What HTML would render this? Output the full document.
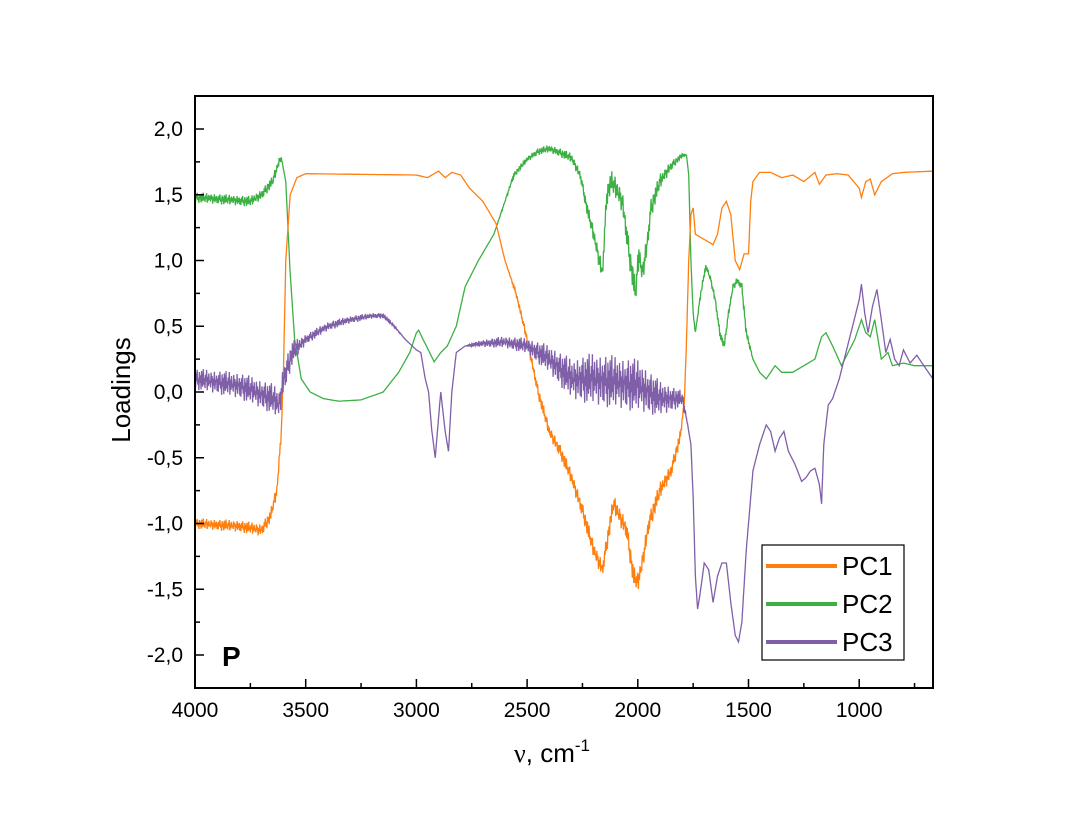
<!DOCTYPE html>
<html><head><meta charset="utf-8"><style>
body{margin:0;background:#fff;}
svg text{font-family:"Liberation Sans",Arial,sans-serif;}
</style></head><body>
<svg id="chart" width="1081" height="825" xmlns="http://www.w3.org/2000/svg">
<rect width="1081" height="825" fill="#fff"/>
<g id="plot"></g>
<g id="axes"></g>
<text transform="translate(130,390) rotate(-90)" text-anchor="middle" font-size="26">Loadings</text>
<text x="552" y="762" text-anchor="middle" font-size="26"><tspan font-family="Liberation Serif,serif">ν</tspan>, cm<tspan dy="-11" font-size="17">-1</tspan></text>
<text x="222" y="666" font-size="28" font-weight="bold">P</text>
<g>
<rect x="762" y="545" width="142" height="115" fill="#fff" stroke="#000" stroke-width="1.2"/>
<line x1="766" y1="566" x2="837" y2="566" stroke="#ff7f0e" stroke-width="4"/>
<text x="842" y="575" font-size="26">PC1</text>
<line x1="766" y1="604" x2="837" y2="604" stroke="#3cb043" stroke-width="4"/>
<text x="842" y="613" font-size="26">PC2</text>
<line x1="766" y1="642" x2="837" y2="642" stroke="#7f5fa8" stroke-width="4"/>
<text x="842" y="651" font-size="26">PC3</text>
</g>
</svg>
<script>
const xTicks=[4000,3500,3000,2500,2000,1500,1000];
const yTicks=[-2,-1.5,-1,-0.5,0,0.5,1,1.5,2];
const yTickLabels=["-2,0","-1,5","-1,0","-0,5","0,0","0,5","1,0","1,5","2,0"];
const pc1=[[4000,-1],[3800,-1.02],[3700,-1.05],[3660,-0.95],[3630,-0.75],[3610,-0.3],[3600,0.2],[3590,1.0],[3570,1.5],[3540,1.63],[3500,1.66],[3000,1.65],[2950,1.63],[2900,1.68],[2870,1.63],[2840,1.67],[2800,1.65],[2760,1.55],[2700,1.45],[2640,1.28],[2600,1.0],[2550,0.75],[2500,0.4],[2450,0.0],[2400,-0.3],[2350,-0.45],[2300,-0.65],[2250,-0.9],[2200,-1.2],[2160,-1.35],[2140,-1.15],[2110,-0.85],[2080,-0.95],[2050,-1.05],[2020,-1.4],[2000,-1.45],[1980,-1.3],[1950,-1.0],[1900,-0.75],[1850,-0.6],[1810,-0.35],[1790,-0.1],[1780,0.4],[1770,1.0],[1760,1.35],[1750,1.4],[1740,1.2],[1710,1.17],[1690,1.15],[1660,1.12],[1640,1.2],[1620,1.4],[1600,1.45],[1580,1.35],[1560,1.0],[1540,0.93],[1520,1.05],[1500,1.05],[1490,1.45],[1480,1.6],[1450,1.67],[1400,1.67],[1350,1.63],[1300,1.65],[1250,1.6],[1200,1.67],[1180,1.58],[1150,1.65],[1100,1.66],[1050,1.65],[1000,1.55],[990,1.48],[970,1.6],[950,1.62],[930,1.5],[900,1.6],[850,1.66],[800,1.67],[667,1.68]];
const pc2=[[4000,1.48],[3750,1.45],[3700,1.5],[3650,1.6],[3620,1.75],[3610,1.78],[3590,1.6],[3570,0.9],[3550,0.4],[3520,0.1],[3480,0.0],[3420,-0.05],[3350,-0.07],[3250,-0.06],[3150,0.0],[3080,0.15],[3030,0.3],[3000,0.45],[2990,0.47],[2970,0.4],[2940,0.3],[2920,0.23],[2890,0.3],[2860,0.35],[2820,0.5],[2780,0.8],[2720,1.0],[2650,1.2],[2600,1.45],[2560,1.65],[2500,1.77],[2450,1.83],[2400,1.85],[2350,1.82],[2300,1.78],[2260,1.65],[2230,1.4],[2200,1.2],[2180,1.05],[2160,0.9],[2140,1.5],[2120,1.6],[2100,1.55],[2070,1.45],[2050,1.2],[2030,0.95],[2010,0.75],[1995,1.05],[1980,0.9],[1960,1.1],[1940,1.4],[1900,1.6],[1850,1.72],[1800,1.8],[1780,1.8],[1770,1.65],[1760,1.0],[1750,0.6],[1740,0.45],[1720,0.7],[1700,0.9],[1690,0.95],[1670,0.85],[1650,0.7],[1630,0.45],[1610,0.35],[1590,0.6],[1570,0.8],[1550,0.85],[1530,0.8],[1510,0.45],[1480,0.25],[1450,0.15],[1420,0.1],[1380,0.2],[1350,0.15],[1300,0.15],[1250,0.2],[1200,0.25],[1170,0.42],[1150,0.45],[1120,0.35],[1080,0.2],[1050,0.3],[1020,0.4],[990,0.55],[970,0.45],[950,0.42],[930,0.55],[900,0.25],[870,0.3],[850,0.2],[800,0.22],[750,0.2],[667,0.2]];
const pc3=[[4000,0.1],[3800,0.05],[3650,-0.05],[3620,-0.1],[3600,0.1],[3560,0.3],[3500,0.4],[3400,0.5],[3300,0.55],[3200,0.58],[3150,0.58],[3100,0.5],[3050,0.4],[3000,0.32],[2980,0.3],[2960,0.1],[2945,0.0],[2930,-0.3],[2915,-0.5],[2900,-0.2],[2890,0.0],[2870,-0.3],[2855,-0.45],[2840,0.0],[2820,0.3],[2780,0.35],[2700,0.37],[2600,0.38],[2500,0.35],[2400,0.25],[2300,0.1],[2200,0.1],[2000,0.05],[1900,-0.05],[1800,-0.05],[1780,-0.2],[1760,-0.4],[1750,-0.8],[1740,-1.4],[1730,-1.65],[1720,-1.55],[1700,-1.3],[1680,-1.35],[1660,-1.6],[1640,-1.4],[1620,-1.3],[1600,-1.3],[1580,-1.6],[1560,-1.85],[1545,-1.9],[1530,-1.75],[1510,-1.2],[1480,-0.6],[1450,-0.4],[1420,-0.25],[1400,-0.3],[1380,-0.45],[1360,-0.35],[1340,-0.3],[1320,-0.45],[1290,-0.55],[1260,-0.68],[1240,-0.65],[1220,-0.6],[1200,-0.58],[1180,-0.7],[1170,-0.85],[1160,-0.4],[1140,-0.1],[1120,-0.05],[1090,0.1],[1060,0.3],[1030,0.5],[1000,0.7],[990,0.82],[975,0.6],[960,0.45],[940,0.65],[920,0.78],[900,0.55],[880,0.3],[860,0.4],[840,0.25],[820,0.2],[800,0.32],[770,0.22],[740,0.28],[700,0.18],[667,0.1]];
// noise amplitude envelopes (wavenumber, amplitude)
const pc1Noise=[[4000,0.04],[3620,0.05],[3580,0],[2600,0],[2500,0.04],[2250,0.06],[2000,0.08],[1800,0.05],[1775,0],[667,0]];
const pc2Noise=[[4000,0.04],[3620,0.04],[3600,0],[2650,0],[2560,0.02],[2250,0.04],[2150,0.08],[2000,0.1],[1850,0.04],[1770,0],[1700,0.03],[1500,0.03],[1480,0],[667,0]];
const pc3Noise=[[4000,0.08],[3600,0.12],[3500,0.04],[3150,0.02],[3050,0],[2780,0],[2700,0.03],[2500,0.06],[2200,0.2],[2000,0.2],[1850,0.1],[1790,0.05],[1770,0],[667,0]];
const jitter=[0.3,-0.8,0.6,-0.2,0.9,-0.5,0.1,-1,0.7,-0.3,0.4,-0.9,0.8,0,-0.6,1,-0.4,0.2,-0.7,0.5,-0.1,0.95,-0.85,0.35,-0.45,0.65,-0.25,0.05,-0.55,0.75,-0.15,0.45,-0.95,0.25,-0.35,0.85,-0.65,0.15,-0.05,0.55,-0.75];

const X0=195,XS=110.7/500,Y0=392,YS=131.5;
const xs=v=>X0+(4000-v)*XS, ys=v=>Y0-v*YS;
const L=195,R=933,T=96,B=688;
const NS="http://www.w3.org/2000/svg";
function interp(arr,w){for(let i=0;i<arr.length-1;i++){const a=arr[i],b=arr[i+1];if(w<=a[0]&&w>=b[0]){const t=(a[0]-w)/(a[0]-b[0]||1);return a[1]+t*(b[1]-a[1]);}}return arr[arr.length-1][1];}
function build(data,noise){let d="",k=0;
 for(let i=0;i<data.length-1;i++){const a=data[i],b=data[i+1];
  for(let w=a[0];w>b[0];w-=2.5){const base=a[1]+(a[0]-w)/(a[0]-b[0])*(b[1]-a[1]);const v=base+interp(noise,w)*jitter[k++%jitter.length];
   d+=(d?"L":"M")+xs(w).toFixed(1)+","+ys(v).toFixed(1);}}
 const l=data[data.length-1];d+="L"+xs(l[0]).toFixed(1)+","+ys(l[1]).toFixed(1);return d;}
const plot=document.getElementById('plot');
[[pc2,pc2Noise,"#3cb043","pc2-line"],[pc1,pc1Noise,"#ff7f0e","pc1-line"],[pc3,pc3Noise,"#7f5fa8","pc3-line"]].forEach(s=>{
 const p=document.createElementNS(NS,"path");p.setAttribute("d",build(s[0],s[1]));p.setAttribute("fill","none");p.setAttribute("stroke",s[2]);p.setAttribute("stroke-width","1.3");
 
 
 plot.appendChild(p);});
const axes=document.getElementById('axes');
function add(tag,at,name){const e=document.createElementNS(NS,tag);for(const k in at)e.setAttribute(k,at[k]);
 
 
 axes.appendChild(e);return e;}
add("rect",{x:L,y:T,width:R-L,height:B-T,fill:"none",stroke:"#000","stroke-width":2},"plot-frame");
xTicks.forEach(v=>{const x=xs(v);add("line",{x1:x,y1:B,x2:x,y2:B-9,stroke:"#000","stroke-width":1.5},"x-tick");
 const t=add("text",{x:x,y:B+29,"text-anchor":"middle","font-size":21},"x-tick-label");t.textContent=v;
 const m=xs(v-250);if(m<R)add("line",{x1:m,y1:B,x2:m,y2:B-5,stroke:"#000","stroke-width":1.5},"x-minor-tick");});
yTicks.forEach((v,i)=>{const y=ys(v);add("line",{x1:L,y1:y,x2:L+9,y2:y,stroke:"#000","stroke-width":1.5},"y-tick");
 const t=add("text",{x:L-12,y:y+7,"text-anchor":"end","font-size":21},"y-tick-label");t.textContent=yTickLabels[i];
 const m=ys(v+0.25);if(m>T)add("line",{x1:L,y1:m,x2:L+5,y2:m,stroke:"#000","stroke-width":1.5},"y-minor-tick");});
</script>
</body></html>
